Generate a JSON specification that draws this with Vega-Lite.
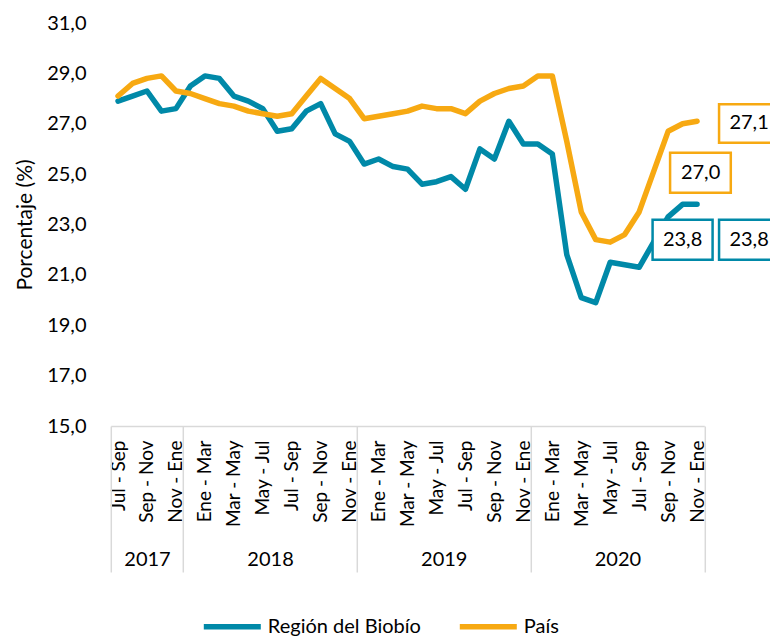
{
  "$schema": "https://vega.github.io/schema/vega-lite/v6.json",
  "width": 593.5,
  "height": 403,
  "autosize": {"type": "none"},
  "padding": {"left": 110.8, "top": 23, "right": 65.7, "bottom": 212},
  "background": "white",
  "config": {
    "view": {"stroke": null},
    "font": "Lato",
    "locale": {"number": {"decimal": ",", "thousands": ".", "grouping": [3], "currency": ["$", ""]}},
    "axis": {"labelFont": "Lato", "titleFont": "Lato", "labelColor": "#000000", "titleColor": "#000000", "grid": false}
  },
  "datasets": {
    "tasa": [
      {"n": 0, "año": "2017", "trimestre": "Jul - Sep", "Región del Biobío": 27.9, "País": 28.1},
      {"n": 1, "año": "2017", "trimestre": "Ago - Oct", "Región del Biobío": 28.1, "País": 28.6},
      {"n": 2, "año": "2017", "trimestre": "Sep - Nov", "Región del Biobío": 28.3, "País": 28.8},
      {"n": 3, "año": "2017", "trimestre": "Oct - Dic", "Región del Biobío": 27.5, "País": 28.9},
      {"n": 4, "año": "2017", "trimestre": "Nov - Ene", "Región del Biobío": 27.6, "País": 28.3},
      {"n": 5, "año": "2018", "trimestre": "Dic - Feb", "Región del Biobío": 28.5, "País": 28.2},
      {"n": 6, "año": "2018", "trimestre": "Ene - Mar", "Región del Biobío": 28.9, "País": 28.0},
      {"n": 7, "año": "2018", "trimestre": "Feb - Abr", "Región del Biobío": 28.8, "País": 27.8},
      {"n": 8, "año": "2018", "trimestre": "Mar - May", "Región del Biobío": 28.1, "País": 27.7},
      {"n": 9, "año": "2018", "trimestre": "Abr - Jun", "Región del Biobío": 27.9, "País": 27.5},
      {"n": 10, "año": "2018", "trimestre": "May - Jul", "Región del Biobío": 27.6, "País": 27.4},
      {"n": 11, "año": "2018", "trimestre": "Jun - Ago", "Región del Biobío": 26.7, "País": 27.3},
      {"n": 12, "año": "2018", "trimestre": "Jul - Sep", "Región del Biobío": 26.8, "País": 27.4},
      {"n": 13, "año": "2018", "trimestre": "Ago - Oct", "Región del Biobío": 27.5, "País": 28.1},
      {"n": 14, "año": "2018", "trimestre": "Sep - Nov", "Región del Biobío": 27.8, "País": 28.8},
      {"n": 15, "año": "2018", "trimestre": "Oct - Dic", "Región del Biobío": 26.6, "País": 28.4},
      {"n": 16, "año": "2018", "trimestre": "Nov - Ene", "Región del Biobío": 26.3, "País": 28.0},
      {"n": 17, "año": "2019", "trimestre": "Dic - Feb", "Región del Biobío": 25.4, "País": 27.2},
      {"n": 18, "año": "2019", "trimestre": "Ene - Mar", "Región del Biobío": 25.6, "País": 27.3},
      {"n": 19, "año": "2019", "trimestre": "Feb - Abr", "Región del Biobío": 25.3, "País": 27.4},
      {"n": 20, "año": "2019", "trimestre": "Mar - May", "Región del Biobío": 25.2, "País": 27.5},
      {"n": 21, "año": "2019", "trimestre": "Abr - Jun", "Región del Biobío": 24.6, "País": 27.7},
      {"n": 22, "año": "2019", "trimestre": "May - Jul", "Región del Biobío": 24.7, "País": 27.6},
      {"n": 23, "año": "2019", "trimestre": "Jun - Ago", "Región del Biobío": 24.9, "País": 27.6},
      {"n": 24, "año": "2019", "trimestre": "Jul - Sep", "Región del Biobío": 24.4, "País": 27.4},
      {"n": 25, "año": "2019", "trimestre": "Ago - Oct", "Región del Biobío": 26.0, "País": 27.9},
      {"n": 26, "año": "2019", "trimestre": "Sep - Nov", "Región del Biobío": 25.6, "País": 28.2},
      {"n": 27, "año": "2019", "trimestre": "Oct - Dic", "Región del Biobío": 27.1, "País": 28.4},
      {"n": 28, "año": "2019", "trimestre": "Nov - Ene", "Región del Biobío": 26.2, "País": 28.5},
      {"n": 29, "año": "2020", "trimestre": "Dic - Feb", "Región del Biobío": 26.2, "País": 28.9},
      {"n": 30, "año": "2020", "trimestre": "Ene - Mar", "Región del Biobío": 25.8, "País": 28.9},
      {"n": 31, "año": "2020", "trimestre": "Feb - Abr", "Región del Biobío": 21.8, "País": 26.3},
      {"n": 32, "año": "2020", "trimestre": "Mar - May", "Región del Biobío": 20.1, "País": 23.5},
      {"n": 33, "año": "2020", "trimestre": "Abr - Jun", "Región del Biobío": 19.9, "País": 22.4},
      {"n": 34, "año": "2020", "trimestre": "May - Jul", "Región del Biobío": 21.5, "País": 22.3},
      {"n": 35, "año": "2020", "trimestre": "Jun - Ago", "Región del Biobío": 21.4, "País": 22.6},
      {"n": 36, "año": "2020", "trimestre": "Jul - Sep", "Región del Biobío": 21.3, "País": 23.5},
      {"n": 37, "año": "2020", "trimestre": "Ago - Oct", "Región del Biobío": 22.3, "País": 25.1},
      {"n": 38, "año": "2020", "trimestre": "Sep - Nov", "Región del Biobío": 23.3, "País": 26.7},
      {"n": 39, "año": "2020", "trimestre": "Oct - Dic", "Región del Biobío": 23.8, "País": 27.0},
      {"n": 40, "año": "2020", "trimestre": "Nov - Ene", "Región del Biobío": 23.8, "País": 27.1}
    ]
  },
  "data": {"name": "tasa"},
  "transform": [{"fold": ["Región del Biobío", "País"], "as": ["serie", "valor"]}],
  "resolve": {"axis": {"x": "independent", "y": "independent"}},
  "layer": [
    {
      "transform": [{"filter": "datum.serie === 'Región del Biobío'"}],
      "mark": {"type": "line", "strokeWidth": 5.5, "strokeJoin": "round", "strokeCap": "round"},
      "encoding": {
        "x": {"field": "n", "type": "quantitative", "scale": {"domain": [-0.5, 40.5], "nice": false, "zero": false},
          "axis": {"orient": "bottom", "title": null, "values": [0,2,4,6,8,10,12,14,16,18,20,22,24,26,28,30,32,34,36,38,40],
            "labelExpr": "['Jul - Sep','Sep - Nov','Nov - Ene','Ene - Mar','Mar - May','May - Jul'][(datum.value / 2) % 6]",
            "labelAngle": 270, "labelAlign": "right", "labelBaseline": "middle", "labelFontSize": 19, "labelPadding": 14,
            "ticks": false, "tickSize": 0, "domain": true, "domainColor": "#D9D9D9", "domainWidth": 1.5,
            "labelFlush": false, "labelOverlap": false, "labelBound": false}},
        "y": {"field": "valor", "type": "quantitative", "scale": {"domain": [15, 31], "nice": false, "zero": false},
          "axis": {"orient": "left", "title": "Porcentaje (%)", "values": [15,17,19,21,23,25,27,29,31], "format": ".1f", "labelFontSize": 20,
            "labelPadding": 24.8, "ticks": false, "tickSize": 0, "domain": false, "titleFontSize": 21, "titleFontWeight": "normal",
            "titlePadding": 11, "labelFlush": false, "labelOverlap": false}},
        "color": {"field": "serie", "type": "nominal", "scale": {"domain": ["Región del Biobío", "País"], "range": ["#0089A8", "#F7A912"]},
          "legend": {"orient": "none", "legendX": 90, "legendY": 572, "direction": "horizontal", "title": null,
            "symbolType": "stroke", "symbolSize": 3249, "symbolStrokeWidth": 5.5, "labelFontSize": 20, "labelFont": "Lato",
            "labelColor": "#000000", "labelOffset": 4, "columnPadding": 27, "labelLimit": 400}}
      }
    },
    {
      "transform": [{"filter": "datum.serie === 'País'"}],
      "mark": {"type": "line", "strokeWidth": 5.5, "strokeJoin": "round", "strokeCap": "round"},
      "encoding": {
        "x": {"field": "n", "type": "quantitative", "scale": {"domain": [-0.5, 40.5], "nice": false, "zero": false},
          "axis": {"orient": "bottom", "title": null, "values": [-0.5, 2, 4.5, 10.5, 16.5, 22.5, 28.5, 34.5, 40.5],
            "labelExpr": "datum.value == 2 ? '2017' : datum.value == 10.5 ? '2018' : datum.value == 22.5 ? '2019' : datum.value == 34.5 ? '2020' : ''",
            "labelAngle": 0, "labelAlign": "center", "labelBaseline": "top", "labelFontSize": 20, "labelPadding": -23,
            "ticks": true, "tickSize": 146, "tickColor": "#D9D9D9", "tickWidth": 1.5,
            "tickOpacity": {"condition": {"test": "datum.value == 2 || datum.value == 10.5 || datum.value == 22.5 || datum.value == 34.5", "value": 0}, "value": 1},
            "domain": false, "labelFlush": false, "labelOverlap": false, "labelBound": false}},
        "y": {"field": "valor", "type": "quantitative", "scale": {"domain": [15, 31], "nice": false, "zero": false}, "axis": null},
        "color": {"field": "serie", "type": "nominal", "scale": {"domain": ["Región del Biobío", "País"], "range": ["#0089A8", "#F7A912"]}}
      }
    },
    {
      "transform": [{"filter": "datum.serie === 'País' && datum.n === 39"}],
      "encoding": {
        "x": {"field": "n", "type": "quantitative", "axis": null, "scale": {"domain": [-0.5, 40.5], "nice": false, "zero": false}},
        "y": {"field": "valor", "type": "quantitative", "axis": null, "scale": {"domain": [15, 31], "nice": false, "zero": false}}
      },
      "layer": [
        {"mark": {"type": "point", "shape": "M -1.25 2.9 L 4.82 2.9 L 4.82 6.9 L -1.25 6.9 Z", "size": 400, "filled": true, "fill": "#FFFFFF", "stroke": "#F7A912", "strokeWidth": 2.5, "opacity": 1}},
        {"mark": {"type": "text", "dx": 18, "dy": 49, "fontSize": 20, "font": "Lato", "fill": "#000000", "align": "center", "baseline": "middle"},
          "encoding": {"text": {"field": "valor", "type": "quantitative", "format": ".1f"}}}
      ]
    },
    {
      "transform": [{"filter": "datum.serie === 'País' && datum.n === 40"}],
      "encoding": {
        "x": {"field": "n", "type": "quantitative", "axis": null, "scale": {"domain": [-0.5, 40.5], "nice": false, "zero": false}},
        "y": {"field": "valor", "type": "quantitative", "axis": null, "scale": {"domain": [15, 31], "nice": false, "zero": false}}
      },
      "layer": [
        {"mark": {"type": "point", "shape": "M 2.2 -1.7 L 8.2 -1.7 L 8.2 2.15 L 2.2 2.15 Z", "size": 400, "filled": true, "fill": "#FFFFFF", "stroke": "#F7A912", "strokeWidth": 2.5, "opacity": 1}},
        {"mark": {"type": "text", "dx": 52, "dy": 2, "fontSize": 20, "font": "Lato", "fill": "#000000", "align": "center", "baseline": "middle"},
          "encoding": {"text": {"field": "valor", "type": "quantitative", "format": ".1f"}}}
      ]
    },
    {
      "transform": [{"filter": "datum.serie === 'Región del Biobío' && datum.n === 39"}],
      "encoding": {
        "x": {"field": "n", "type": "quantitative", "axis": null, "scale": {"domain": [-0.5, 40.5], "nice": false, "zero": false}},
        "y": {"field": "valor", "type": "quantitative", "axis": null, "scale": {"domain": [15, 31], "nice": false, "zero": false}}
      },
      "layer": [
        {"mark": {"type": "point", "shape": "M -3 1.55 L 3 1.55 L 3 5.55 L -3 5.55 Z", "size": 400, "filled": true, "fill": "#FFFFFF", "stroke": "#0089A8", "strokeWidth": 2.5, "opacity": 1}},
        {"mark": {"type": "text", "dx": 0, "dy": 35.5, "fontSize": 20, "font": "Lato", "fill": "#000000", "align": "center", "baseline": "middle"},
          "encoding": {"text": {"field": "valor", "type": "quantitative", "format": ".1f"}}}
      ]
    },
    {
      "transform": [{"filter": "datum.serie === 'Región del Biobío' && datum.n === 40"}],
      "encoding": {
        "x": {"field": "n", "type": "quantitative", "axis": null, "scale": {"domain": [-0.5, 40.5], "nice": false, "zero": false}},
        "y": {"field": "valor", "type": "quantitative", "axis": null, "scale": {"domain": [15, 31], "nice": false, "zero": false}}
      },
      "layer": [
        {"mark": {"type": "point", "shape": "M 2.2 1.55 L 8.2 1.55 L 8.2 5.55 L 2.2 5.55 Z", "size": 400, "filled": true, "fill": "#FFFFFF", "stroke": "#0089A8", "strokeWidth": 2.5, "opacity": 1}},
        {"mark": {"type": "text", "dx": 52, "dy": 35.5, "fontSize": 20, "font": "Lato", "fill": "#000000", "align": "center", "baseline": "middle"},
          "encoding": {"text": {"field": "valor", "type": "quantitative", "format": ".1f"}}}
      ]
    }
  ]
}
